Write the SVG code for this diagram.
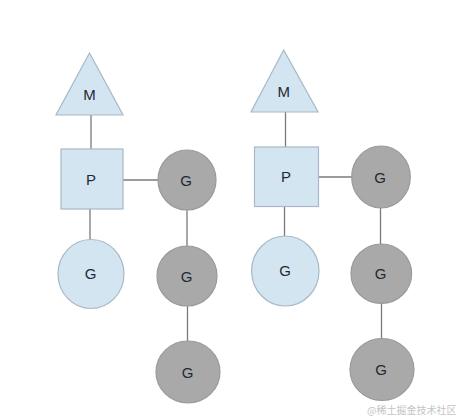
<svg xmlns="http://www.w3.org/2000/svg" width="458" height="416" viewBox="0 0 458 416">
<style>
.l{fill:#d4e5f2;stroke:#a8b8c6;stroke-width:1.2}
.g{fill:#a9a9a9;stroke:#9a9a9a;stroke-width:1.2}
.c{stroke:#7a7a7a;stroke-width:1.3;fill:none}
text{font-family:"Liberation Sans",Arial,sans-serif;font-size:15px;fill:#1e2a33;text-anchor:middle;dominant-baseline:central}
.wm{font-family:"Noto Sans CJK SC",sans-serif;font-size:10px;fill:#c4c4c4;text-anchor:start}
</style>
<rect width="458" height="416" fill="#ffffff"/>
<g id="connectors">
<line class="c" x1="91" y1="115" x2="91" y2="149"/>
<line class="c" x1="123" y1="180" x2="158" y2="180"/>
<line class="c" x1="90" y1="209" x2="90" y2="240"/>
<line class="c" x1="187" y1="210" x2="187" y2="246"/>
<line class="c" x1="187.5" y1="306" x2="187.5" y2="341"/>
<line class="c" x1="285.5" y1="112" x2="285.5" y2="147"/>
<line class="c" x1="318" y1="177" x2="352" y2="177"/>
<line class="c" x1="284.5" y1="206" x2="284.5" y2="236"/>
<line class="c" x1="380.5" y1="208" x2="380.5" y2="244"/>
<line class="c" x1="381.5" y1="303" x2="381.5" y2="338"/>
</g>
<g id="m1"><polygon class="l" points="89.5,53 56,115 123,115"/><text x="89.5" y="94">M</text></g>
<g id="p1"><rect class="l" x="61" y="149" width="62" height="60"/><text x="91" y="179">P</text></g>
<g id="g1a"><ellipse class="g" cx="187" cy="180" rx="29" ry="30"/><text x="186" y="180">G</text></g>
<g id="g1l"><ellipse class="l" cx="91" cy="274" rx="33" ry="34.5"/><text x="90.5" y="273">G</text></g>
<g id="g1b"><ellipse class="g" cx="187" cy="276" rx="30" ry="30"/><text x="186.5" y="276">G</text></g>
<g id="g1c"><ellipse class="g" cx="188" cy="372" rx="32" ry="31"/><text x="187.5" y="372">G</text></g>
<g id="m2"><polygon class="l" points="283.7,50 251,112 318,112"/><text x="283.7" y="91.5">M</text></g>
<g id="p2"><rect class="l" x="254.5" y="147" width="64" height="59.5"/><text x="286" y="176.5">P</text></g>
<g id="g2a"><ellipse class="g" cx="381" cy="177" rx="29.3" ry="31"/><text x="380" y="177">G</text></g>
<g id="g2l"><ellipse class="l" cx="285.3" cy="271" rx="33.7" ry="35"/><text x="285" y="270">G</text></g>
<g id="g2b"><ellipse class="g" cx="381.3" cy="273.7" rx="30.3" ry="29.7"/><text x="380.5" y="273">G</text></g>
<g id="g2c"><ellipse class="g" cx="382" cy="369.5" rx="32" ry="31"/><text x="381" y="369.5">G</text></g>
<text class="wm" x="367" y="409">@稀土掘金技术社区</text>
</svg>
